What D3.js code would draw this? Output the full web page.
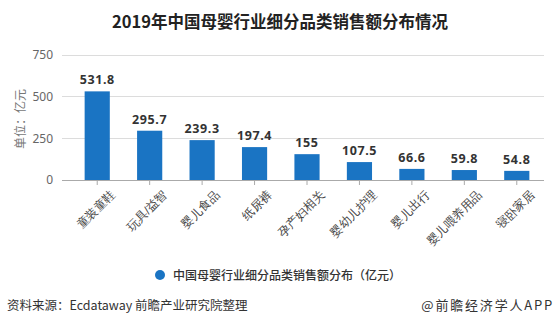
<!DOCTYPE html>
<html>
<head>
<meta charset="utf-8">
<script src="https://cdn.jsdelivr.net/npm/d3@7"></script>
<style>
  html, body { margin: 0; padding: 0; background: #fff; }
  svg { display: block; font-family: "Noto Sans CJK SC", "Noto Sans", sans-serif; }
</style>
</head>
<body>
<svg id="chart" width="559" height="330"></svg>
<script>
// 2019 China maternal & infant market: sales by sub-category (100 million yuan)
const categories = ["童装童鞋", "玩具/益智", "婴儿食品", "纸尿裤", "孕产妇相关", "婴幼儿护理", "婴儿出行", "婴儿喂养用品", "寝卧家居"];
const sales = [531.8, 295.7, 239.3, 197.4, 155, 107.5, 66.6, 59.8, 54.8];
const yTicks = [0, 250, 500, 750];

const title = "2019年中国母婴行业细分品类销售额分布情况";
const yTitle = "单位：亿元";
const legendLabel = "中国母婴行业细分品类销售额分布（亿元）";
const sourceText = "资料来源：Ecdataway 前瞻产业研究院整理";
const brandText = "@前瞻经济学人APP";

const barColor = "#1a74c3";
const svg = d3.select("#chart");

const plot = { left: 62, right: 544, top: 55, bottom: 180 };

const x = d3.scaleBand()
  .domain(categories)
  .range([71, 543])
  .paddingInner(0.52)
  .paddingOuter(0.26);

const y = d3.scaleLinear()
  .domain([0, 750])
  .range([plot.bottom, plot.top]);

// title
svg.append("text")
  .attr("x", 280).attr("y", 28)
  .attr("text-anchor", "middle")
  .attr("font-size", 16.5).attr("font-weight", "bold")
  .attr("fill", "#222")
  .text(title);

// horizontal grid lines
svg.append("g")
  .selectAll("line")
  .data(yTicks.filter(d => d > 0))
  .join("line")
  .attr("x1", plot.left).attr("x2", plot.right)
  .attr("y1", d => y(d)).attr("y2", d => y(d))
  .attr("stroke", "#dcdcdc").attr("stroke-width", 1)
  .attr("shape-rendering", "crispEdges");

// y axis labels
const yAxis = svg.append("g")
  .attr("transform", `translate(${plot.left},0)`)
  .call(d3.axisLeft(y).tickValues(yTicks).tickSize(0).tickPadding(9));
yAxis.select(".domain").remove();
yAxis.selectAll("text")
  .attr("font-size", 12).attr("fill", "#666")
  .attr("font-family", "'Noto Sans', sans-serif");

// y axis title
svg.append("text")
  .attr("transform", "translate(25,119) rotate(-90)")
  .attr("text-anchor", "middle")
  .attr("font-size", 12).attr("fill", "#777")
  .text(yTitle);

// bars
svg.append("g")
  .selectAll("rect")
  .data(sales)
  .join("rect")
  .attr("x", (d, i) => x(categories[i]))
  .attr("width", x.bandwidth())
  .attr("y", d => y(d))
  .attr("height", d => y(0) - y(d))
  .attr("fill", barColor);

// value labels
svg.append("g")
  .selectAll("text")
  .data(sales)
  .join("text")
  .attr("x", (d, i) => x(categories[i]) + x.bandwidth() / 2)
  .attr("y", d => y(d) - 7)
  .attr("text-anchor", "middle")
  .attr("font-size", 12.5).attr("font-weight", "bold")
  .attr("letter-spacing", 0.6)
  .attr("fill", "#333")
  .attr("font-family", "'Noto Sans', sans-serif")
  .text(d => d);

// x axis
const xAxis = svg.append("g")
  .attr("transform", `translate(0,${plot.bottom})`)
  .call(d3.axisBottom(x).tickSize(5).tickSizeOuter(0).tickPadding(4));
xAxis.select(".domain")
  .attr("d", `M${plot.left},0.5H${plot.right}`)
  .attr("stroke", "#aaa");
xAxis.selectAll(".tick line").attr("stroke", "#aaa");
xAxis.selectAll("text")
  .attr("font-size", 12).attr("fill", "#444")
  .attr("text-anchor", "end")
  .attr("transform", "translate(6,3) rotate(-45)")
  .attr("dy", "0.7em");

// legend
svg.append("circle")
  .attr("cx", 160).attr("cy", 275).attr("r", 5)
  .attr("fill", barColor);
svg.append("text")
  .attr("x", 173).attr("y", 279.5)
  .attr("font-size", 12).attr("font-weight", 500).attr("fill", "#333")
  .text(legendLabel);

// footer
svg.append("text")
  .attr("x", 7).attr("y", 310)
  .attr("font-size", 12.5).attr("fill", "#333")
  .text(sourceText);
svg.append("text")
  .attr("x", 554).attr("y", 310)
  .attr("text-anchor", "end")
  .attr("font-size", 13).attr("fill", "#333")
  .attr("letter-spacing", 1.8)
  .text(brandText);
</script>
</body>
</html>
